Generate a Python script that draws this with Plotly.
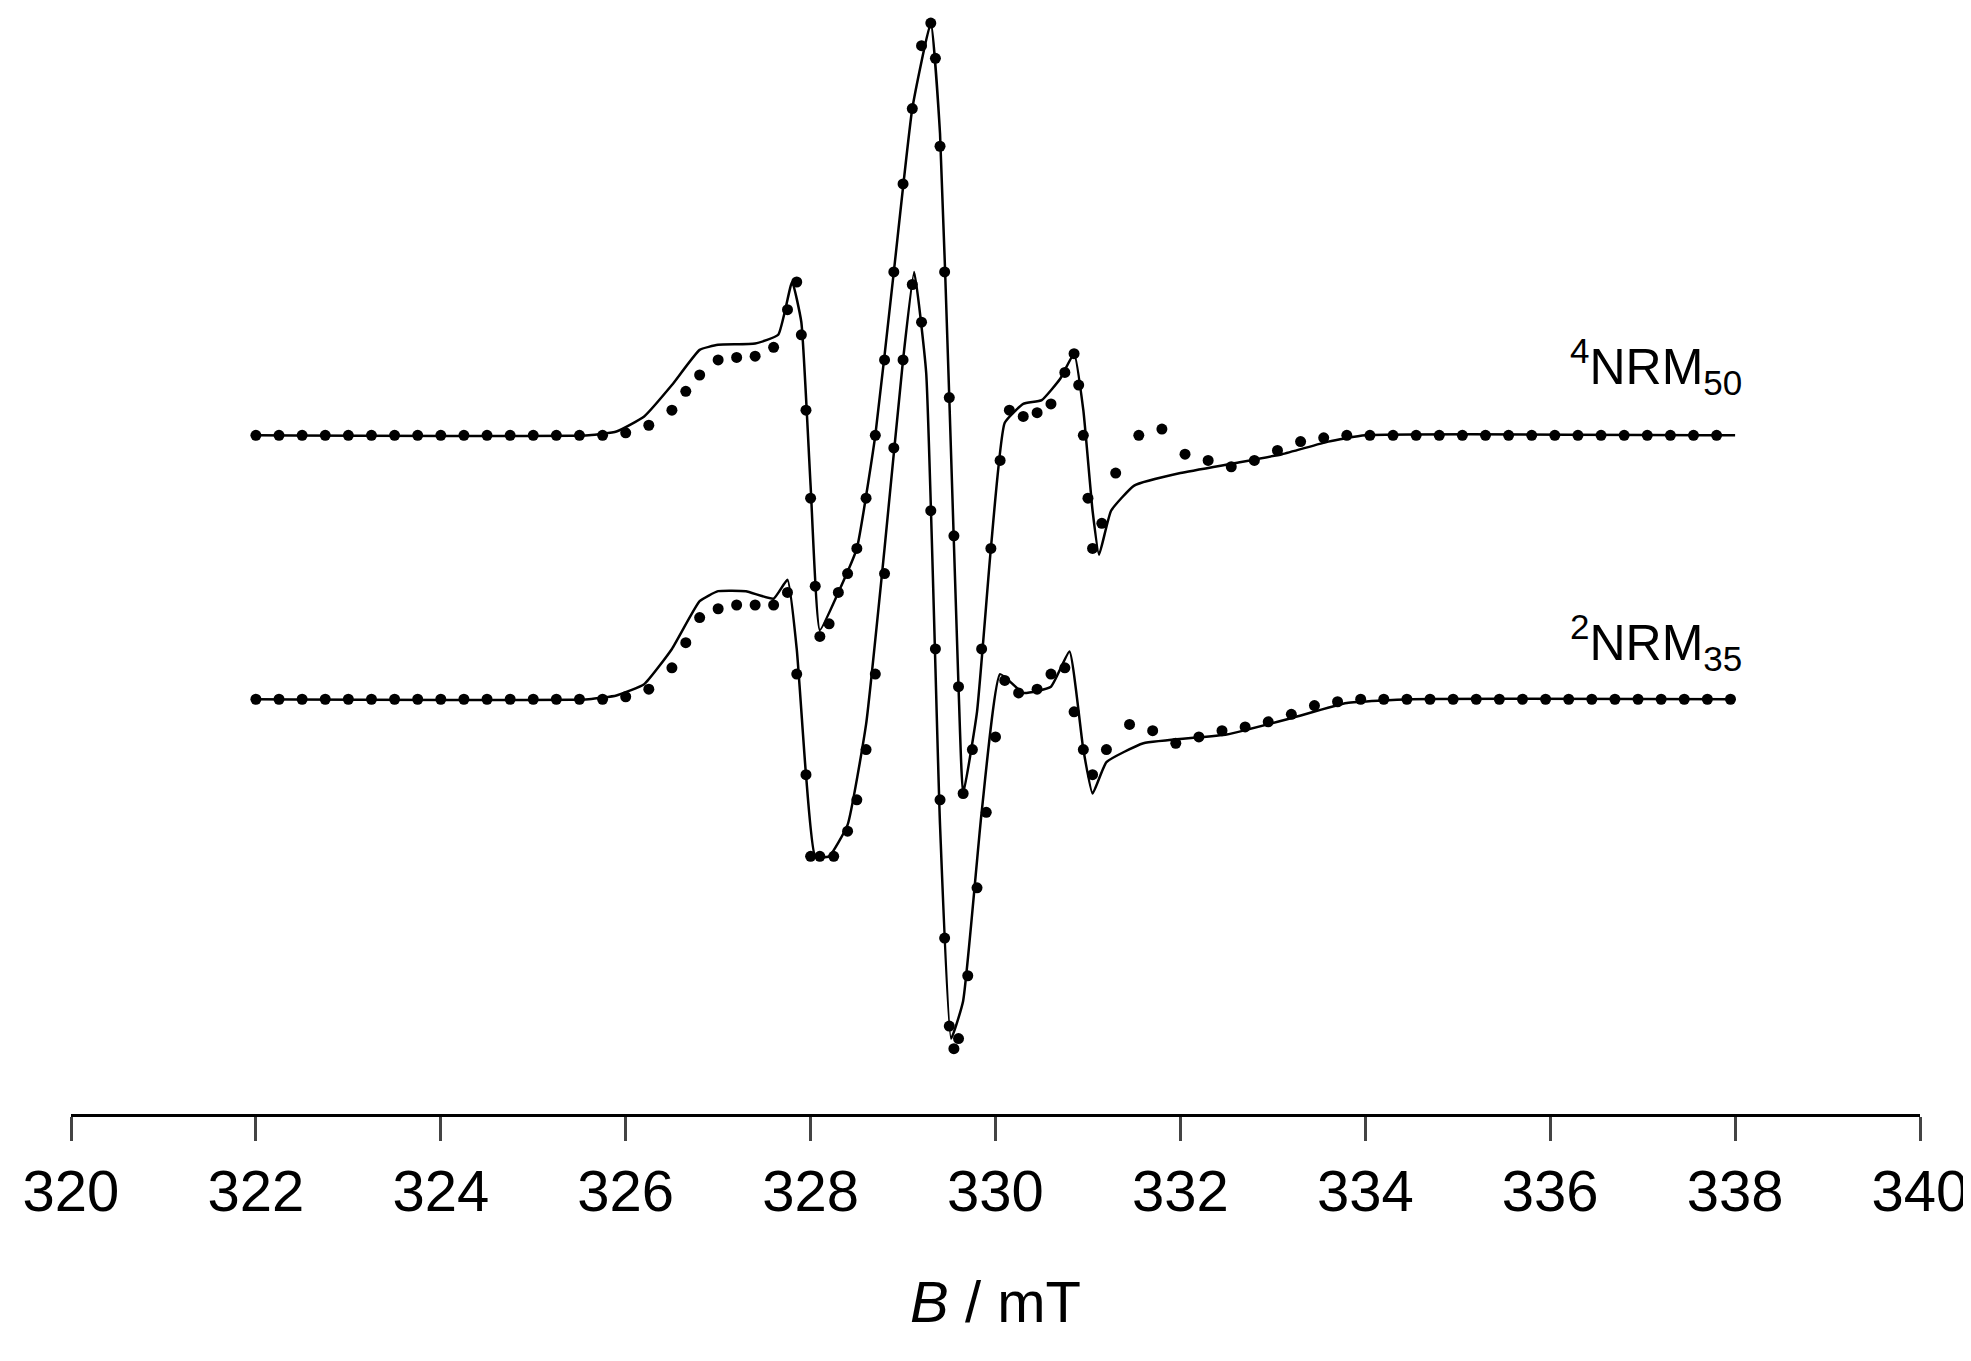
import plotly.graph_objects as go

# Spectra are drawn in arbitrary intensity units; the upper one is shifted by offset_top
offset_top = 210

# 4NRM50 simulated line (field in mT, intensity)
fit_top_x = [322, 325.6, 325.9, 326.2, 326.5, 326.8, 327.0, 327.4, 327.65, 327.8, 327.9, 328.0, 328.1,
             328.3, 328.5, 328.7, 328.9, 329.1, 329.3, 329.4, 329.5, 329.6, 329.65, 329.8, 329.95, 330.1,
             330.3, 330.5, 330.7, 330.85, 330.95, 331.05, 331.12, 331.25, 331.5, 332.0, 332.6, 333.1,
             333.6, 334.0, 338]
fit_top_y = [0, 0, 3, 15, 40, 68, 72, 73, 80, 122, 90, -40, -155,
             -125, -90, 0, 130, 260, 328, 240, 30, -200, -285, -220, -90, 10,
             25, 28, 45, 65, 20, -60, -95, -60, -40, -30, -22, -15,
             -5, 0, 0]

# 4NRM50 measured points
dots_top_x = [322, 322.25, 322.5, 322.75, 323, 323.25, 323.5, 323.75, 324, 324.25, 324.5, 324.75,
              325, 325.25, 325.5, 325.75, 326.0, 326.25, 326.5, 326.65, 326.8, 327.0, 327.2, 327.4,
              327.6, 327.75, 327.85, 327.9, 327.95, 328.0, 328.05, 328.1, 328.2, 328.3, 328.4, 328.5,
              328.6, 328.7, 328.8, 328.9, 329.0, 329.1, 329.2, 329.3, 329.35, 329.4, 329.45, 329.5,
              329.55, 329.6, 329.65, 329.75, 329.85, 329.95, 330.05, 330.15, 330.3, 330.45, 330.6,
              330.75, 330.85, 330.9, 330.95, 331.0, 331.05, 331.15, 331.3, 331.55, 331.8, 332.05,
              332.3, 332.55, 332.8, 333.05, 333.3, 333.55, 333.8, 334.05, 334.3, 334.55, 334.8, 335.05,
              335.3, 335.55, 335.8, 336.05, 336.3, 336.55, 336.8, 337.05, 337.3, 337.55, 337.8]
dots_top_y = [0, 0, 0, 0, 0, 0, 0, 0, 0, 0, 0, 0,
              0, 0, 0, 0, 2, 8, 20, 35, 48, 60, 62, 63,
              70, 100, 122, 80, 20, -50, -120, -160, -150, -125, -110, -90,
              -50, 0, 60, 130, 200, 260, 310, 328, 300, 230, 130, 30,
              -80, -200, -285, -250, -170, -90, -20, 20, 15, 18, 25,
              50, 65, 40, 0, -50, -90, -70, -30, 0, 5, -15,
              -20, -25, -20, -12, -5, -2, 0, 0, 0, 0, 0, 0,
              0, 0, 0, 0, 0, 0, 0, 0, 0, 0, 0]

# 2NRM35 simulated line
fit_bot_x = [322, 325.6, 325.9, 326.2, 326.5, 326.8, 327.0, 327.3, 327.6, 327.75, 327.85, 327.95, 328.05,
             328.2, 328.4, 328.6, 328.8, 329.0, 329.12, 329.25, 329.4, 329.52, 329.65, 329.85, 330.05,
             330.3, 330.6, 330.8, 330.95, 331.05, 331.2, 331.6, 332.5, 333.2, 333.8, 334.5, 338]
fit_bot_y = [0, 0, 3, 12, 40, 78, 86, 86, 80, 95, 40, -60, -125,
             -125, -100, -20, 120, 270, 340, 260, -100, -270, -240, -90, 20,
             5, 10, 38, -40, -75, -50, -35, -28, -15, -3, 0, 0]

# 2NRM35 measured points
dots_bot_x = [322, 322.25, 322.5, 322.75, 323, 323.25, 323.5, 323.75, 324, 324.25, 324.5, 324.75,
              325, 325.25, 325.5, 325.75, 326.0, 326.25, 326.5, 326.65, 326.8, 327.0, 327.2, 327.4,
              327.6, 327.75, 327.85, 327.95, 328.0, 328.1, 328.25, 328.4, 328.5, 328.6, 328.7, 328.8,
              328.9, 329.0, 329.1, 329.2, 329.3, 329.35, 329.4, 329.45, 329.5, 329.55, 329.6, 329.7,
              329.8, 329.9, 330.0, 330.1, 330.25, 330.45, 330.6, 330.75, 330.85, 330.95, 331.05, 331.2,
              331.45, 331.7, 331.95, 332.2, 332.45, 332.7, 332.95, 333.2, 333.45, 333.7, 333.95, 334.2,
              334.45, 334.7, 334.95, 335.2, 335.45, 335.7, 335.95, 336.2, 336.45, 336.7, 336.95,
              337.2, 337.45, 337.7, 337.95]
dots_bot_y = [0, 0, 0, 0, 0, 0, 0, 0, 0, 0, 0, 0,
              0, 0, 0, 0, 2, 8, 25, 45, 65, 72, 75, 75,
              75, 85, 20, -60, -125, -125, -125, -105, -80, -40, 20, 100,
              200, 270, 330, 300, 150, 40, -80, -190, -260, -278, -270, -220,
              -150, -90, -30, 15, 5, 8, 20, 25, -10, -40, -60, -40,
              -20, -25, -35, -30, -25, -22, -18, -12, -5, -2, 0, 0,
              0, 0, 0, 0, 0, 0, 0, 0, 0, 0, 0,
              0, 0, 0, 0]

labels = ["<sup>4</sup>NRM<sub>50</sub>", "<sup>2</sup>NRM<sub>35</sub>"]
ticks = list(range(320, 341, 2))

fig = go.Figure()
line_style = dict(color="black", width=2.5, shape="spline", smoothing=0.4)
dot_style = dict(color="black", size=11)

fig.add_trace(go.Scatter(x=fit_top_x, y=[v + offset_top for v in fit_top_y], mode="lines", line=line_style))
fig.add_trace(go.Scatter(x=dots_top_x, y=[v + offset_top for v in dots_top_y], mode="markers", marker=dot_style))
fig.add_trace(go.Scatter(x=fit_bot_x, y=fit_bot_y, mode="lines", line=line_style))
fig.add_trace(go.Scatter(x=dots_bot_x, y=dots_bot_y, mode="markers", marker=dot_style))

fig.add_annotation(x=338.1, y=offset_top + 55, text=labels[0], showarrow=False, xanchor="right",
                   font=dict(size=50, color="black"))
fig.add_annotation(x=338.1, y=45, text=labels[1], showarrow=False, xanchor="right",
                   font=dict(size=50, color="black"))

fig.update_layout(
    width=1971, height=1361,
    margin=dict(l=63, r=59, t=0, b=255),
    plot_bgcolor="white", paper_bgcolor="white",
    showlegend=False,
    font=dict(family="Liberation Sans, Arial", color="black"),
    xaxis=dict(range=[320, 340], tickvals=ticks, ticks="outside", ticklen=24, tickwidth=3,
               showline=True, linewidth=3, linecolor="black", showgrid=False, zeroline=False,
               tickfont=dict(size=58), title=dict(text="<i>B</i> / mT", font=dict(size=58), standoff=60)),
    yaxis=dict(range=[-330, 550], visible=False),
)

fig.write_html("out.html")
